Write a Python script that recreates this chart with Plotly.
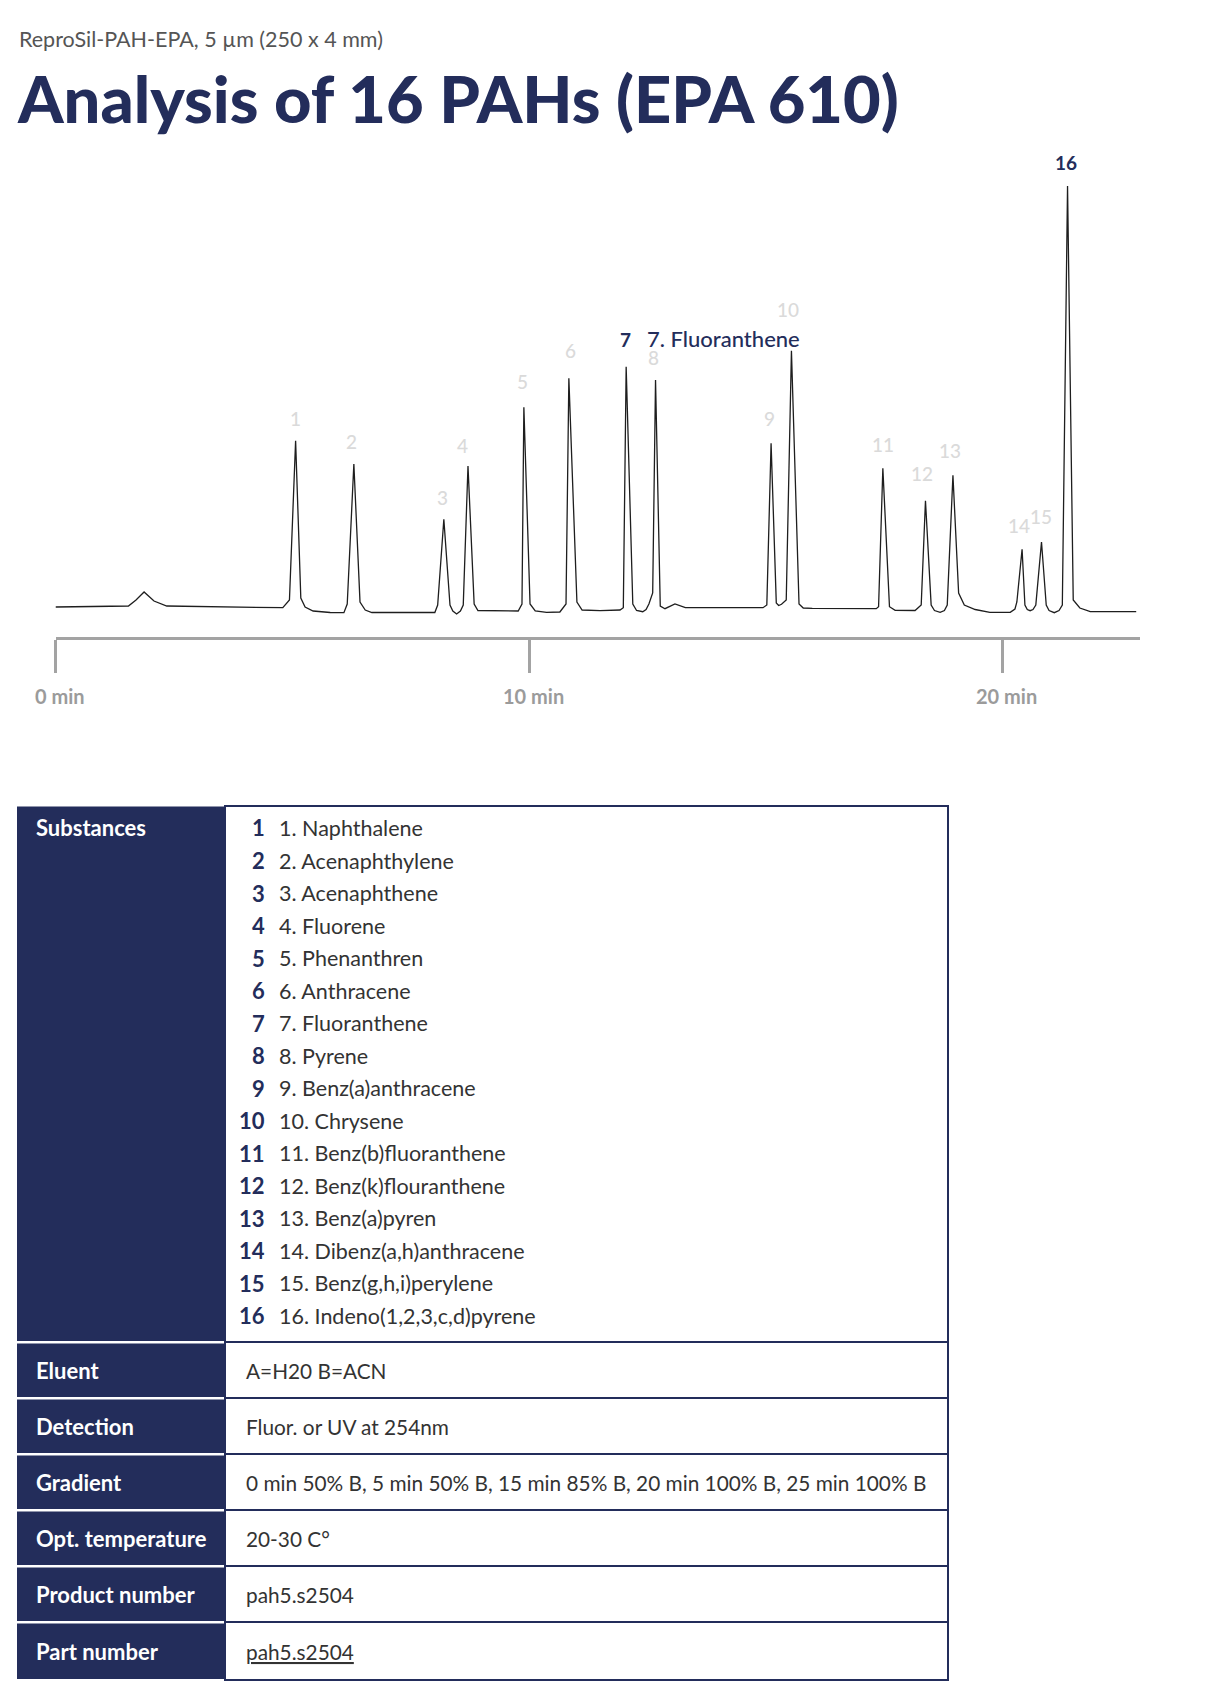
import plotly.graph_objects as go

# chromatogram trace (time in min, detector signal in a.u.)
times = [0.00, 1.54, 1.70, 1.87, 2.08, 2.35, 4.80,
         4.94, 5.07, 5.18, 5.27, 5.44, 5.80, 6.09,
         6.16, 6.30, 6.43, 6.54, 6.68, 8.01,
         8.07, 8.20, 8.33, 8.39, 8.47, 8.55,
         8.61, 8.71, 8.84, 8.92, 9.77,
         9.85, 9.89, 10.02, 10.13, 10.37, 10.65,
         10.78, 10.84, 11.01, 11.12, 11.50, 11.92,
         11.99, 12.05, 12.19, 12.27, 12.40, 12.47,
         12.53, 12.61, 12.67, 12.77, 12.87, 13.08, 13.30, 14.94,
         15.02, 15.11, 15.22, 15.27, 15.33,
         15.43, 15.54, 15.70, 15.79, 15.98, 17.33,
         17.38, 17.47, 17.61, 17.73, 18.15,
         18.28, 18.37, 18.49, 18.56, 18.68, 18.77,
         18.83, 18.95, 19.07, 19.19, 19.42, 19.73, 20.16,
         20.26, 20.30, 20.41, 20.47, 20.52, 20.58, 20.64,
         20.70, 20.82, 20.92, 20.98, 21.09, 21.19,
         21.26, 21.37, 21.49, 21.63, 21.85, 22.82]
signal = [5, 6, 12, 20, 11, 6, 4.3,
          12, 171.3, 14, 5, 1, -0.5, -0.7,
          8, 148, 10, 2, -0.5, -0.5,
          7, 92.7, 7, 1, -2, 1,
          7, 146, 8, 1.5, 1,
          8, 204.7, 8, 1, -0.3, 0,
          8, 233.7, 10, 2, 1.3, 2,
          4.3, 245.3, 8, 1.5, 0.3, 2.5,
          8, 19, 232, 6, 3.3, 8, 4.3, 4.3,
          7, 168.7, 9, 6.5, 7.7,
          12, 261.3, 8, 4, 3.7, 3.3,
          5.3, 143.7, 5.3, 1.7, 1.5,
          7, 111.3, 7, 1.5, -0.3, 1.5,
          7, 136.7, 19, 7, 2.5, -0.3, -0.3,
          3, 10, 62.7, 7, 2.5, 1.3, 2.5,
          7, 70, 7, 1.5, -0.7, 1.5,
          7, 426, 12, 4, 0.3, 0.3]

# peak apexes
peak_ids = [str(i) for i in range(1, 17)]
peak_times = [5.07, 6.30, 8.20, 8.71, 9.89, 10.84, 12.05, 12.67,
              15.11, 15.54, 17.47, 18.37, 18.95, 20.41, 20.82, 21.37]
peak_heights = [171.3, 148, 92.7, 146, 204.7, 233.7, 245.3, 232,
                168.7, 261.3, 143.7, 111.3, 136.7, 62.7, 70, 426]
highlight = ["7", "16"]
hover_name = "7. Fluoranthene"

axis_ticks = [0, 10, 20]
axis_labels = ["0 min", "10 min", "20 min"]

substances = ["Naphthalene", "Acenaphthylene", "Acenaphthene", "Fluorene",
              "Phenanthren", "Anthracene", "Fluoranthene", "Pyrene",
              "Benz(a)anthracene", "Chrysene", "Benz(b)fluoranthene",
              "Benz(k)flouranthene", "Benz(a)pyren", "Dibenz(a,h)anthracene",
              "Benz(g,h,i)perylene", "Indeno(1,2,3,c,d)pyrene"]
info_keys = ["Eluent", "Detection", "Gradient", "Opt. temperature",
             "Product number", "Part number"]
info_vals = ["A=H20 B=ACN", "Fluor. or UV at 254nm",
             "0 min 50% B, 5 min 50% B, 15 min 85% B, 20 min 100% B, 25 min 100% B",
             "20-30 C°", "pah5.s2504", "<u>pah5.s2504</u>"]

subtitle = "ReproSil-PAH-EPA, 5 µm (250 x 4 mm)"
title = "Analysis of 16 PAHs (EPA 610)"

# page body has an 8px margin, so the figure is a bit smaller than the window
OFF = 8
W, H = 1229 - 2 * OFF, 1691 - 2 * OFF
NAVY = "#232d5b"
GREY_AX = "#a3a3a3"
FONT = "Lato"

# label offsets above each apex (px)
lab_dx = [0, -2, -1, -5, -1, 2, -1, -2, -2, -3, 0, -3, -3, -3, -1, -2]
lab_dy = [22, 23, 22, 21, 26, 28, 27, 23, 25, 41, 24, 27, 25, 24, 26, 24]


def px(x):
    # page pixel -> paper x
    return (x - OFF) / W


def py(y):
    # page pixel -> paper y
    return 1 - (y - OFF) / H


fig = go.Figure()
fig.add_trace(go.Scatter(x=times, y=signal, mode="lines",
                         line=dict(color="#1e1e1e", width=1.3),
                         hoverinfo="skip", showlegend=False))

ann = []
shapes = []

# peak numbers
for i, pid in enumerate(peak_ids):
    hl = pid in highlight
    ann.append(dict(x=peak_times[i], y=peak_heights[i], xref="x", yref="y",
                    text=pid, showarrow=False, xanchor="center", yanchor="middle",
                    xshift=lab_dx[i], yshift=lab_dy[i],
                    font=dict(family=FONT, size=19,
                              color=NAVY if hl else "#dadada",
                              weight="bold" if hl else 500)))
# hovered name next to peak 7
i7 = peak_ids.index("7")
ann.append(dict(x=peak_times[i7], y=peak_heights[i7], xref="x", yref="y",
                text=hover_name, showarrow=False, xanchor="left", yanchor="middle",
                xshift=19, yshift=28,
                font=dict(family=FONT, size=22, color=NAVY, weight=500)))

# axis labels
for t, lab in zip(axis_ticks, axis_labels):
    ann.append(dict(x=t, y=py(696), xref="x", yref="paper", text=lab,
                    showarrow=False, xanchor="center", yanchor="middle", xshift=4,
                    font=dict(family=FONT, size=20, color="#9b9b9b", weight="bold")))

# header texts
ann.append(dict(x=px(17), y=py(39), xref="paper", yref="paper", text=subtitle,
                showarrow=False, xanchor="left", yanchor="middle",
                font=dict(family=FONT, size=21.5, color="#555555")))
ann.append(dict(x=px(15), y=py(98), xref="paper", yref="paper", text=title,
                showarrow=False, xanchor="left", yanchor="middle",
                font=dict(family=FONT, size=65, color=NAVY, weight=900)))

# table geometry
tab_l, tab_m, tab_r = 17, 225, 948
tab_top = 805
row_bounds = [1342, 1398, 1454, 1510, 1566, 1622, 1680]

# header column cells (navy with white gaps)
tops = [tab_top] + row_bounds[:-1]
for top, bot in zip(tops, row_bounds):
    shapes.append(dict(type="rect", xref="paper", yref="paper",
                       x0=px(tab_l), x1=px(tab_m), y0=py(top + 1.5), y1=py(bot - 1),
                       fillcolor=NAVY, line=dict(width=0)))
# value column border and row lines
shapes.append(dict(type="rect", xref="paper", yref="paper",
                   x0=px(tab_m), x1=px(tab_r), y0=py(tab_top + 1), y1=py(row_bounds[-1]),
                   fillcolor="rgba(0,0,0,0)", line=dict(color=NAVY, width=2)))
for b in row_bounds[:-1]:
    shapes.append(dict(type="line", xref="paper", yref="paper",
                       x0=px(tab_m), x1=px(tab_r), y0=py(b), y1=py(b),
                       line=dict(color=NAVY, width=2)))

# table header labels
head_font = dict(family=FONT, size=22, color="white", weight="bold")
ann.append(dict(x=px(34), y=py(828), xref="paper", yref="paper", text="Substances",
                showarrow=False, xanchor="left", yanchor="middle", font=head_font))
for k, (key, val) in enumerate(zip(info_keys, info_vals)):
    yc = (tops[k + 1] + row_bounds[k + 1]) / 2
    ann.append(dict(x=px(34), y=py(yc), xref="paper", yref="paper", text=key,
                    showarrow=False, xanchor="left", yanchor="middle", font=head_font))
    ann.append(dict(x=px(244), y=py(yc), xref="paper", yref="paper", text=val,
                    showarrow=False, xanchor="left", yanchor="middle",
                    font=dict(family=FONT, size=20.8, color="#333333")))

# substance list
for k, name in enumerate(substances):
    yc = 828 + k * 32.5
    ann.append(dict(x=px(267), y=py(yc), xref="paper", yref="paper", text=str(k + 1),
                    showarrow=False, xanchor="right", yanchor="middle",
                    font=dict(family=FONT, size=22, color=NAVY, weight="bold")))
    ann.append(dict(x=px(277), y=py(yc), xref="paper", yref="paper",
                    text=f"{k + 1}. {name}",
                    showarrow=False, xanchor="left", yanchor="middle",
                    font=dict(family=FONT, size=21.5, color="#333333")))

fig.update_layout(
    width=W, height=H,
    margin=dict(l=0, r=0, t=0, b=0),
    paper_bgcolor="white", plot_bgcolor="white",
    xaxis=dict(domain=[px(55.5), px(1140)], range=[0, 22.9],
               showline=True, linecolor=GREY_AX, linewidth=2.5,
               ticks="outside", ticklen=33, tickwidth=2.5, tickcolor=GREY_AX,
               tickvals=axis_ticks, showticklabels=False,
               showgrid=False, zeroline=False, fixedrange=True),
    yaxis=dict(domain=[py(637), py(140)], range=[-25, 472],
               visible=False, showgrid=False, zeroline=False, fixedrange=True),
    annotations=ann, shapes=shapes,
    font=dict(family=FONT),
)

fig.write_html("out.html")
